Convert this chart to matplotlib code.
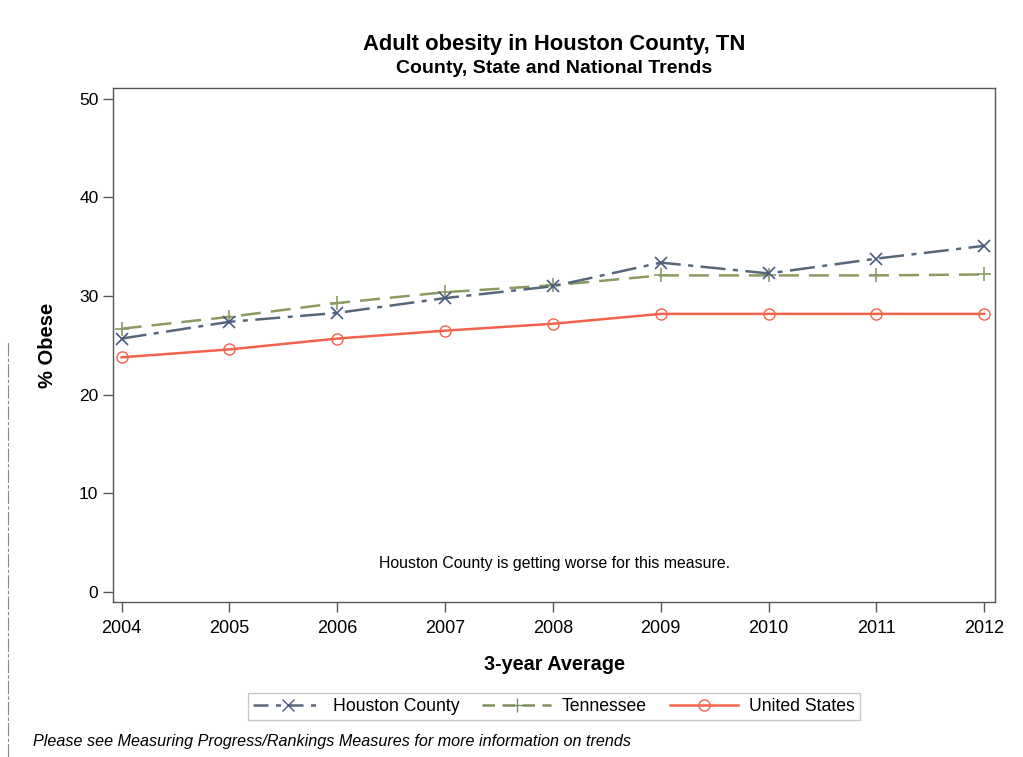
import matplotlib
matplotlib.use("Agg")
import matplotlib.pyplot as plt
from matplotlib.lines import Line2D

plt.rcParams['font.family'] = ['Liberation Sans', 'DejaVu Sans']

years = [2004, 2005, 2006, 2007, 2008, 2009, 2010, 2011, 2012]
houston = [25.7, 27.4, 28.3, 29.8, 31.0, 33.4, 32.3, 33.8, 35.1]
tennessee = [26.7, 27.9, 29.3, 30.4, 31.1, 32.1, 32.1, 32.1, 32.2]
united_states = [23.8, 24.6, 25.7, 26.5, 27.2, 28.2, 28.2, 28.2, 28.2]

yticks = [0, 10, 20, 30, 40, 50]

fig = plt.figure(figsize=(10.23, 7.57), dpi=100)
ax = fig.add_axes([0.1105, 0.2048, 0.8621, 0.679])

ax.plot(years, tennessee, color='#8a9a62', linestyle=(0, (8, 4)), lw=1.8,
        marker='+', markersize=10, markeredgewidth=1.2, label='Tennessee', zorder=3)
ax.plot(years, houston, color='#56677a', linestyle=(0, (10, 3, 2, 3)), lw=1.8,
        marker='x', markersize=8, markeredgewidth=1.2, markeredgecolor='#4a5a80',
        label='Houston County', zorder=4)
ax.plot(years, united_states, color='#f2634c', lw=1.8, marker='o', markersize=8,
        markerfacecolor='none', markeredgewidth=1.0, label='United States', zorder=5)

ax.set_xlim(2003.92, 2012.10)
ax.set_ylim(-1.0, 51.1)
ax.set_xticks(years)
ax.set_yticks(yticks)
ax.tick_params(axis='both', length=7, width=1, color='#555555', direction='out')
ax.tick_params(axis='x', labelsize=13, pad=6)
ax.tick_params(axis='y', labelsize=12.5)
for s in ax.spines.values():
    s.set_color('#555555')
    s.set_linewidth(1)

ax.set_ylabel('% Obese', fontsize=14.5, fontweight='bold', labelpad=16)
ax.set_xlabel('3-year Average', fontsize=14.3, fontweight='bold', labelpad=13)

ax.text(0.5, 0.075, 'Houston County is getting worse for this measure.',
        transform=ax.transAxes, ha='center', va='center', fontsize=11.4)

fig.text(0.5416, 0.941, 'Adult obesity in Houston County, TN', ha='center', va='center',
         fontsize=15.8, fontweight='bold')
fig.text(0.5416, 0.909, 'County, State and National Trends', ha='center', va='center',
         fontsize=14, fontweight='bold')

handles = [
    Line2D([], [], color='#56677a', linestyle=(0, (6, 3, 2, 3)), lw=1.8, marker='x',
           markersize=8, markeredgecolor='#4a5a80'),
    Line2D([], [], color='#7f8f5a', linestyle=(0, (5, 3)), lw=1.8, marker='+', markersize=10),
    Line2D([], [], color='#f2634c', lw=1.8, marker='o', markersize=8, markerfacecolor='none'),
]
leg = fig.legend(handles, ['Houston County', 'Tennessee', 'United States'],
                 loc='center', bbox_to_anchor=(0.5416, 0.0665), ncol=3, fontsize=12.7,
                 frameon=True, fancybox=False, edgecolor='#bbbbbb', handlelength=3.9,
                 columnspacing=1.3, handletextpad=0.6, borderpad=0.3)
leg.get_frame().set_linewidth(1)

fig.text(0.032, 0.021, 'Please see Measuring Progress/Rankings Measures for more information on trends',
         ha='left', va='center', fontsize=11.6, style='italic')

# margin rule along the left edge of the page
fig.add_artist(Line2D([0.008, 0.008], [0.0, 0.55], transform=fig.transFigure,
                      color='#888888', lw=0.8, linestyle=(0, (12, 2, 3, 2))))

fig.savefig('out.png', dpi=100)
